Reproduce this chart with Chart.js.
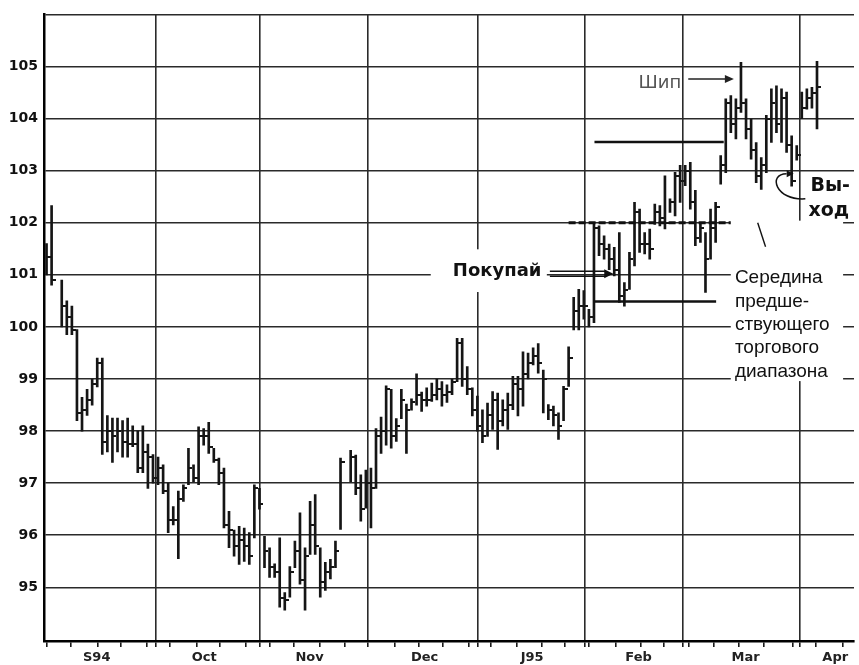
<!DOCTYPE html>
<html>
<head>
<meta charset="utf-8">
<script src="https://cdn.jsdelivr.net/npm/chart.js@4.4.1/dist/chart.umd.min.js"></script>
<style>
  html, body { margin: 0; padding: 0; background: #fff; }
  canvas { display: block; }
</style>
</head>
<body>
<canvas id="chart" width="859" height="665"></canvas>
<script>
// one entry per trading day, Sep 1994 .. early Apr 1995 (null = no bar)
const highs = [
  101.6, 102.33, null, 100.9, 100.5, 100.4, 99.95, 98.65, 98.8, 99.0,
  99.4, 99.4, 98.3, 98.25, 98.25, 98.2, 98.25, 98.1, 98.0, 98.1,
  97.75, 97.55, 97.5, 97.35, 97.0, 96.55, 96.85, 96.97, 97.67, 97.35,
  98.08, 98.05, 98.17, 97.67, 97.48, 97.29, 96.46, 96.1, 96.17, 96.14,
  96.05, 96.97, 96.9, 95.98, 95.76, 95.45, 95.95, 94.9, 95.4, 95.89,
  96.43, 95.76, 96.65, 96.78, 95.76, 95.48, 95.54, 95.89, 97.48, null,
  97.63, 97.54, 97.16, 97.25, 97.29, 98.05, 98.27, 98.87, 98.8, 98.24,
  98.8, 98.52, 98.62, 99.1, 98.75, 98.83, 98.92, 99.0, 98.95, 98.89,
  99.0, 99.78, 99.78, 99.24, 98.83, 98.67, 98.41, 98.54, 98.76, 98.73,
  98.6, 98.73, 99.05, 99.05, 99.52, 99.5, 99.6, 99.68, 99.17, 98.51,
  98.48, 98.35, 98.86, 99.62, 100.57, 100.72, 100.7, 100.34, 101.97, 101.94,
  101.75, 101.59, 101.53, 101.81, 100.85, 101.43, 102.39, 102.26, 101.81, 101.88,
  102.36, 102.33, 102.9, 102.46, 102.97, 103.1, 103.1, 103.16, 102.62, 102.0,
  101.81, 102.26, 102.39, 103.29, 104.38, 104.44, 104.38, 105.08, 104.38, 103.99,
  103.54, 103.25, 104.06, 104.57, 104.63, 104.57, 104.51, 103.67, 103.48, 104.51,
  104.57, 104.6, 105.1
];
const lows = [
  101.0, 100.8, null, 100.0, 99.85, 99.85, 98.2, 98.0, 98.3, 98.5,
  98.85, 97.55, 97.6, 97.4, 97.6, 97.5, 97.5, 97.7, 97.2, 97.2,
  96.9, 97.0, 96.97, 96.8, 96.05, 96.2, 95.55, 96.65, 96.97, 97.03,
  96.97, 97.73, 97.57, 97.4, 96.97, 96.14, 95.76, 95.6, 95.44, 95.5,
  95.44, 95.95, 96.5, 95.38, 95.19, 95.19, 94.62, 94.56, 94.81, 95.38,
  95.06, 94.56, 95.63, 95.63, 94.81, 94.94, 95.16, 95.38, 96.11, null,
  97.03, 96.78, 96.27, 96.52, 96.14, 96.9, 97.57, 97.73, 97.67, 97.8,
  98.24, 97.57, 98.4, 98.5, 98.38, 98.48, 98.57, 98.6, 98.48, 98.55,
  98.7, 98.95, 98.86, 98.7, 98.29, 98.0, 97.78, 97.9, 98.03, 97.65,
  98.1, 98.03, 98.41, 98.29, 98.48, 99.0, 99.27, 99.11, 98.35, 98.22,
  98.1, 97.84, 98.2, 98.86, 99.94, 99.94, 100.15, 100.0, 100.08, 101.37,
  101.3, 101.1, 100.98, 100.47, 100.4, 100.72, 101.17, 101.43, 101.4, 101.3,
  101.97, 101.94, 101.88, 102.2, 102.13, 102.39, 102.71, 102.26, 101.56, 101.62,
  100.66, 101.3, 101.62, 102.74, 102.96, 103.73, 103.61, 104.12, 103.61, 103.22,
  102.77, 102.64, 102.96, 103.54, 103.73, 103.54, 103.35, 102.7, 103.2, 104.0,
  104.18, 104.2, 103.8
];
const closes = [
  101.35, 100.9, null, 100.4, 100.2, 99.95, 98.35, 98.4, 98.6, 98.9,
  99.3, 97.8, 98.0, 97.9, 98.0, 97.8, 97.75, 97.75, 97.3, 97.6,
  97.5, 97.1, 97.3, 96.85, 96.3, 96.3, 96.7, 96.9, 97.3, 97.1,
  97.9, 97.9, 97.7, 97.45, 97.2, 96.2, 96.1, 95.8, 95.9, 95.8,
  95.6, 96.9, 96.6, 95.7, 95.4, 95.3, 94.8, 94.75, 95.3, 95.7,
  95.15, 95.6, 96.2, 95.8, 95.1, 95.3, 95.4, 95.7, 97.4, null,
  97.5, 96.9, 96.5, 97.0, 96.9, 97.9, 98.0, 98.8, 97.9, 98.1,
  98.6, 98.4, 98.55, 98.7, 98.6, 98.6, 98.7, 98.8, 98.7, 98.75,
  98.95, 99.7, 99.0, 98.8, 98.4, 98.1, 97.9, 98.3, 98.6, 98.2,
  98.4, 98.5, 98.9, 98.8, 99.1, 99.3, 99.45, 99.3, 99.0, 98.4,
  98.3, 98.1, 98.8, 99.4, 100.3, 100.4, 100.4, 100.2, 101.9, 101.6,
  101.5, 101.3, 101.1, 100.6, 100.7, 101.3, 102.2, 101.6, 101.6, 101.5,
  102.2, 102.1, 102.0, 102.4, 102.9, 102.8, 103.0, 102.4, 101.7, 101.9,
  101.3, 101.9, 102.3, 103.1, 104.3, 103.9, 104.2, 104.3, 103.8, 103.4,
  102.9, 103.1, 104.0, 104.3, 103.9, 104.4, 103.5, 102.8, 103.3, 104.2,
  104.4, 104.5, 104.6
];

// x axis in trading-day units
const monthStarts = [21.46, 42.05, 63.42, 85.13, 106.2, 125.6, 148.6];
const monthLabels = ['S94', 'Oct', 'Nov', 'Dec', 'J95', 'Feb', 'Mar', 'Apr'];
const labelDays = [9.9, 31.1, 51.9, 74.6, 95.8, 116.8, 137.9, 155.6];
const weekTicks = [0.1, 4.8, 10.1, 14.6, 19.7, 24.4, 29.7, 34.2, 39.3, 44.0, 48.7, 54.0, 58.9,
  68.7, 73.4, 78.1, 83.4, 87.7, 92.8, 97.7, 102.2, 106.9, 112.4, 117.3, 121.8, 126.8,
  131.7, 136.6, 141.5, 147.2, 151.7, 157.0];
const yTicks = [95, 96, 97, 98, 99, 100, 101, 102, 103, 104, 105, 106];

// annotation levels (price) and their day ranges
const levelLines = [
  { price: 103.55, from: 108.1, to: 133.6, dash: [] },
  { price: 102.0, from: 103.0, to: 135.4, dash: [7, 3] },
  { price: 100.49, from: 108.1, to: 132.1, dash: [] }
];
const rangeNote = ['Середина', 'предше-', 'ствующего', 'торгового', 'диапазона'];

const barData = [];
const closeData = [];
highs.forEach((h, i) => {
  if (h == null) return;
  barData.push({ x: i, y: [lows[i], h] });
  closeData.push({ x: i, y: closes[i] });
});

// close tick: short stub to the right of the bar
const tick = document.createElement('canvas');
tick.width = 8;
tick.height = 2;
const tctx = tick.getContext('2d');
tctx.fillStyle = '#151515';
tctx.fillRect(4, 0, 4, 2);

function arrowHead(ctx, x, y, angle, len, half) {
  const c = Math.cos(angle), s = Math.sin(angle);
  ctx.beginPath();
  ctx.moveTo(x, y);
  ctx.lineTo(x - len * c + half * s, y - len * s - half * c);
  ctx.lineTo(x - len * c - half * s, y - len * s + half * c);
  ctx.closePath();
  ctx.fill();
}

const annotations = {
  id: 'annotations',
  afterDatasetsDraw(chart) {
    const { ctx } = chart;
    const xs = chart.scales.x, ys = chart.scales.y;
    const px = d => xs.getPixelForValue(d);
    const py = p => ys.getPixelForValue(p);
    ctx.save();
    ctx.strokeStyle = '#111';
    ctx.fillStyle = '#111';

    levelLines.forEach(l => {
      ctx.lineWidth = l.dash.length ? 3 : 2.5;
      ctx.setLineDash(l.dash);
      ctx.beginPath();
      ctx.moveTo(px(l.from), py(l.price));
      ctx.lineTo(px(l.to), py(l.price));
      ctx.stroke();
    });
    ctx.setLineDash([]);

    // "Покупай" with double arrow
    ctx.fillStyle = '#fff';
    ctx.fillRect(px(75.8), py(101.49), px(98.7) - px(75.8), py(100.67) - py(101.49));
    ctx.fillStyle = '#111';
    ctx.font = 'bold 18px "DejaVu Sans"';
    ctx.textAlign = 'center';
    ctx.textBaseline = 'middle';
    ctx.fillText('Покупай', px(88.9), py(101.07));
    ctx.lineWidth = 1.5;
    const ay = py(101.02);
    [-2.5, 2.5].forEach(off => {
      ctx.beginPath();
      ctx.moveTo(px(99.3), ay + off);
      ctx.lineTo(px(110.3), ay + off);
      ctx.stroke();
    });
    arrowHead(ctx, px(111.8), ay, 0, 9, 4.5);

    // "Шип"
    ctx.fillStyle = '#555';
    ctx.font = '18px "DejaVu Sans"';
    ctx.textAlign = 'left';
    ctx.textBaseline = 'alphabetic';
    ctx.fillText('Шип', px(116.8), py(104.59));
    ctx.strokeStyle = '#222';
    ctx.fillStyle = '#222';
    ctx.lineWidth = 1.5;
    ctx.beginPath();
    ctx.moveTo(px(126.6), py(104.76));
    ctx.lineTo(px(134.2), py(104.76));
    ctx.stroke();
    arrowHead(ctx, px(135.6), py(104.76), 0, 9, 4);

    // "Вы-ход" with hooked arrow
    ctx.fillStyle = '#111';
    ctx.strokeStyle = '#111';
    ctx.font = 'bold 19px "DejaVu Sans"';
    ctx.fillText('Вы-', px(150.7), py(102.6));
    ctx.fillText('ход', px(150.3), py(102.12));
    ctx.lineWidth = 1.5;
    ctx.beginPath();
    ctx.moveTo(px(149.7), py(102.46));
    ctx.bezierCurveTo(px(143.8), py(102.42), px(142.25), py(102.94), px(146.0), py(102.94));
    ctx.stroke();
    arrowHead(ctx, px(147.4), py(102.94), 0, 7, 3.5);

    // range-middle note
    ctx.fillStyle = '#fff';
    ctx.fillRect(px(134.99), py(102.04), px(157.15) - px(134.99), py(98.96) - py(102.04));
    ctx.strokeStyle = '#111';
    ctx.lineWidth = 1.4;
    ctx.beginPath();
    ctx.moveTo(px(140.3), py(102.0));
    ctx.lineTo(px(141.85), py(101.54));
    ctx.stroke();
    ctx.fillStyle = '#111';
    ctx.font = '19px "Liberation Sans"';
    const baseP = [100.84, 100.39, 99.94, 99.49, 99.04];
    rangeNote.forEach((t, i) => ctx.fillText(t, px(135.8), py(baseP[i])));

    ctx.restore();
  }
};

new Chart(document.getElementById('chart'), {
  type: 'bar',
  data: {
    datasets: [
      {
        type: 'bar',
        data: barData,
        backgroundColor: '#151515',
        borderWidth: 0,
        barThickness: 2,
        order: 2
      },
      {
        type: 'scatter',
        data: closeData,
        pointStyle: tick,
        pointRadius: 3,
        order: 1
      }
    ]
  },
  options: {
    responsive: false,
    animation: false,
    events: [],
    layout: { padding: { top: 12, right: 0, bottom: 0, left: 0 } },
    plugins: { legend: { display: false }, tooltip: { enabled: false } },
    scales: {
      x: {
        type: 'linear',
        min: -0.5,
        max: 159.3,
        offset: false,
        afterBuildTicks: scale => {
          scale.ticks = [
            ...monthStarts.map(v => ({ value: v, kind: 'month' })),
            ...weekTicks.map(v => ({ value: v, kind: 'week' })),
            ...labelDays.map((v, i) => ({ value: v, kind: 'label', name: monthLabels[i] }))
          ].sort((a, b) => a.value - b.value);
        },
        afterFit: scale => { scale.height = 24; },
        grid: {
          offset: false,
          lineWidth: 1.6,
          tickLength: 6,
          color: c => (c.tick && c.tick.kind === 'month') ? '#2a2a2a' : 'rgba(0,0,0,0)',
          tickColor: c => (c.tick && c.tick.kind !== 'label') ? '#1a1a1a' : 'rgba(0,0,0,0)'
        },
        border: { display: true, color: '#000', width: 2.5 },
        ticks: {
          autoSkip: false,
          maxRotation: 0,
          padding: 3,
          color: '#222',
          font: { family: 'DejaVu Sans', size: 13, weight: 'bold' },
          callback: (v, i, ticks) => ticks[i].kind === 'label' ? ticks[i].name : ''
        }
      },
      y: {
        type: 'linear',
        min: 93.97,
        max: 106,
        afterBuildTicks: scale => {
          scale.ticks = yTicks.map(v => ({ value: v }));
        },
        afterFit: scale => { scale.width = 44; },
        grid: { color: '#2a2a2a', lineWidth: 1.6, drawTicks: false },
        border: { display: true, color: '#000', width: 2.5 },
        ticks: {
          padding: 6,
          color: '#111',
          font: { family: 'DejaVu Sans', size: 14, weight: 'bold' },
          callback: v => v <= 105 ? v : ''
        }
      }
    }
  },
  plugins: [annotations]
});
</script>
</body>
</html>
